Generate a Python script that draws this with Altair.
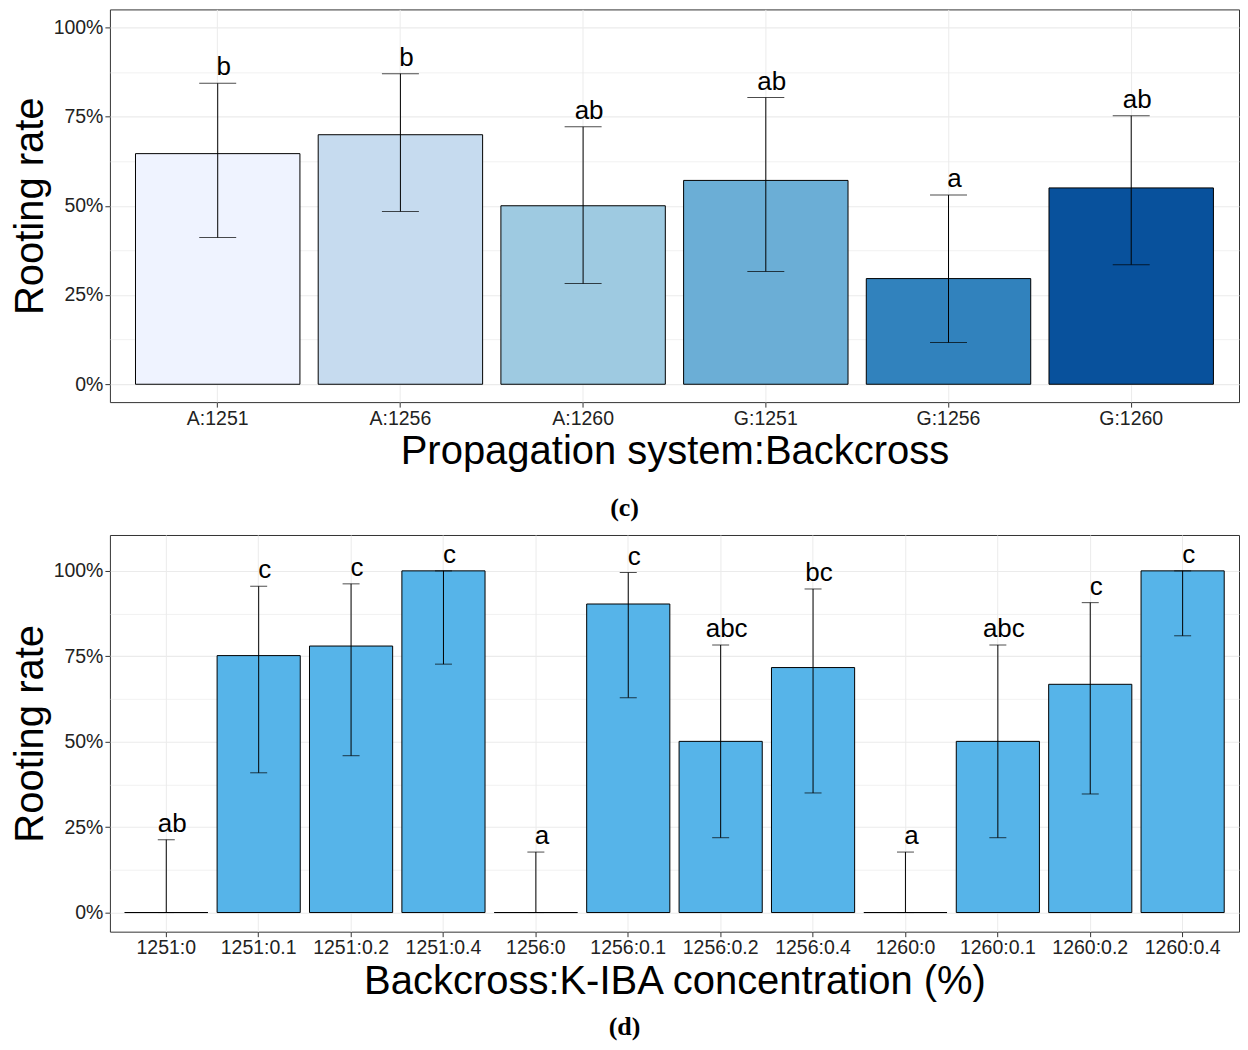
import altair as alt
import pandas as pd

# ---- Panel (c) data ----
c_cats = ["A:1251", "A:1256", "A:1260", "G:1251", "G:1256", "G:1260"]
c_rate = [0.646, 0.699, 0.500, 0.571, 0.296, 0.550]
c_lo = [0.411, 0.484, 0.282, 0.316, 0.117, 0.335]
c_hi = [0.843, 0.870, 0.721, 0.803, 0.530, 0.752]
c_letters = ["b", "b", "ab", "ab", "a", "ab"]
c_colors = ["#EFF3FF", "#C6DBEF", "#9ECAE1", "#6BAED6", "#3182BD", "#08519C"]

# ---- Panel (d) data ----
d_cats = ["1251:0", "1251:0.1", "1251:0.2", "1251:0.4",
          "1256:0", "1256:0.1", "1256:0.2", "1256:0.4",
          "1260:0", "1260:0.1", "1260:0.2", "1260:0.4"]
d_rate = [0.0, 0.752, 0.780, 1.0, 0.0, 0.903, 0.501, 0.717, 0.0, 0.501, 0.668, 1.0]
d_lo = [0.0, 0.409, 0.459, 0.727, 0.0, 0.629, 0.219, 0.350, 0.0, 0.219, 0.347, 0.810]
d_hi = [0.213, 0.955, 0.962, 1.0, 0.177, 0.995, 0.783, 0.947, 0.177, 0.783, 0.907, 1.0]
d_letters = ["ab", "c", "c", "c", "a", "c", "abc", "bc", "a", "abc", "c", "c"]
d_color = "#56B4E9"

FONT = "Liberation Sans"
MAJOR = "datum.value % 0.25 === 0"


def y_axis():
    return alt.Axis(
        values=[i * 0.125 for i in range(9)],
        labelExpr="datum.value % 0.25 === 0 ? format(datum.value, '.0%') : ''",
        tickOpacity={"condition": {"test": MAJOR, "value": 1}, "value": 0},
        gridWidth={"condition": {"test": MAJOR, "value": 1.1}, "value": 0.7},
        title="Rooting rate",
    )


def panel(cats, rate, lo, hi, letters, xtitle, ydomain, width, height,
          cap_size, color_enc, caption, pad_outer, text_dx, cap_offset):
    df = pd.DataFrame({"cat": cats, "rate": rate, "lo": lo, "hi": hi, "lab": letters})
    x = alt.X("cat:N", sort=cats, title=xtitle,
              scale=alt.Scale(paddingInner=0.1, paddingOuter=pad_outer),
              axis=alt.Axis(labelAngle=0, grid=True, bandPosition=0.5))
    y = alt.Y("rate:Q", scale=alt.Scale(domain=ydomain, nice=False, zero=False),
              axis=y_axis())
    base = alt.Chart(df)
    bars = base.mark_bar(stroke="black", strokeWidth=1).encode(x=x, y=y, y2=alt.datum(0), color=color_enc)
    rule = base.mark_rule(color="black", strokeWidth=1).encode(x=x, y="lo:Q", y2="hi:Q")
    tick_lo = base.mark_tick(color="black", thickness=1, size=cap_size, orient="horizontal").encode(x=x, y="lo:Q")
    tick_hi = base.mark_tick(color="black", thickness=1, size=cap_size, orient="horizontal").encode(x=x, y="hi:Q")
    text = base.mark_text(font=FONT, fontSize=26, baseline="alphabetic", dy=-8, dx=text_dx,
                          color="black").encode(x=x, y="hi:Q", text="lab:N")
    return alt.layer(bars, rule, tick_lo, tick_hi, text).properties(
        width=width, height=height,
        title=alt.TitleParams(caption, orient="bottom", anchor="middle", frame="bounds",
                              font="Liberation Serif", fontSize=26, fontWeight="bold",
                              color="black", offset=cap_offset),
    )


c_color = alt.Color("cat:N", scale=alt.Scale(domain=c_cats, range=c_colors), legend=None)
d_color_enc = alt.value(d_color)

chart_c = panel(c_cats, c_rate, c_lo, c_hi, c_letters, "Propagation system:Backcross",
                [-0.05, 1.05], 1130, 393, 37, c_color, "(c)", 0.14, 6, 23)
chart_d = panel(d_cats, d_rate, d_lo, d_hi, d_letters, "Backcross:K-IBA concentration (%)",
                [-0.056, 1.105], 1130, 397, 17, d_color_enc, "(d)", 0.16, 6, 13)

chart = alt.vconcat(chart_c, chart_d, spacing=13).configure(
    padding={"left": 1, "top": 0, "right": 0, "bottom": 0},
    background="white",
).configure_view(
    stroke="#333333", strokeWidth=1,
).configure_axis(
    labelFont=FONT, titleFont=FONT, labelFontSize=19.5, titleFontSize=40,
    labelColor="#222222", titleColor="black", titleFontWeight="normal",
    tickColor="#333333", tickSize=5, labelPadding=2,
    gridColor="#EBEBEB", domain=False,
).configure_axisX(
    titlePadding=4,
).configure_axisY(
    titlePadding=3,
)

chart.save("out.html", embed_options={"renderer": "svg", "actions": False})
